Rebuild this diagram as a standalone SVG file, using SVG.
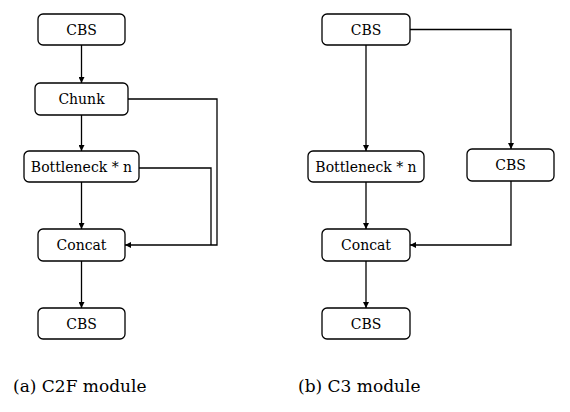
<svg xmlns="http://www.w3.org/2000/svg" width="570" height="412" viewBox="0 0 570 412">
<style>
.box{fill:#fff;stroke:#000;stroke-width:1.3}
.lbl{font-size:14px;fill:#000;text-anchor:middle}
.cap{font-size:17px;fill:#000}
.edge{fill:none;stroke:#000;stroke-width:1.3}
</style>
<defs>
<marker id="arr" viewBox="0 0 10 10" refX="10" refY="5" markerWidth="6" markerHeight="6" markerUnits="userSpaceOnUse" orient="auto">
<path d="M0,0 L10,5 L0,10 z" fill="#000"/>
</marker>
</defs>
<rect width="570" height="412" fill="#fff"/>
<g id="connectors">
<path class="edge" d="M81.5,45 V83" marker-end="url(#arr)"/>
<path class="edge" d="M81.5,115 V151" marker-end="url(#arr)"/>
<path class="edge" d="M81.5,182 V229" marker-end="url(#arr)"/>
<path class="edge" d="M81.5,261 V308" marker-end="url(#arr)"/>
<path class="edge" d="M139,168 H211 V245"/>
<path class="edge" d="M128,99 H217 V245 H125" marker-end="url(#arr)"/>
<path class="edge" d="M366,45 V151" marker-end="url(#arr)"/>
<path class="edge" d="M410,29.5 H511 V149" marker-end="url(#arr)"/>
<path class="edge" d="M366,182 V229" marker-end="url(#arr)"/>
<path class="edge" d="M511,181 V245 H410" marker-end="url(#arr)"/>
<path class="edge" d="M366,261 V308" marker-end="url(#arr)"/>
</g>
<g font-family="DejaVu Serif, serif">
<g id="a_cbs1"><rect class="box" x="38" y="14" width="87" height="31" rx="5"/><text class="lbl" x="81.5" y="34.5">CBS</text></g>
<g id="a_chunk"><rect class="box" x="35" y="83" width="93" height="32" rx="5"/><text class="lbl" x="81.5" y="104">Chunk</text></g>
<g id="a_bottleneck"><rect class="box" x="24" y="151" width="115" height="31" rx="5"/><text class="lbl" x="81.5" y="171.5">Bottleneck * n</text></g>
<g id="a_concat"><rect class="box" x="38" y="229" width="87" height="32" rx="5"/><text class="lbl" x="81.5" y="250">Concat</text></g>
<g id="a_cbs2"><rect class="box" x="38" y="308" width="87" height="31" rx="5"/><text class="lbl" x="81.5" y="328.5">CBS</text></g>
<g id="b_cbs1"><rect class="box" x="322" y="14" width="88" height="31" rx="5"/><text class="lbl" x="366" y="34.5">CBS</text></g>
<g id="b_bottleneck"><rect class="box" x="308" y="151" width="116" height="31" rx="5"/><text class="lbl" x="366" y="171.5">Bottleneck * n</text></g>
<g id="b_cbs_side"><rect class="box" x="467" y="149" width="87" height="32" rx="5"/><text class="lbl" x="510.5" y="170">CBS</text></g>
<g id="b_concat"><rect class="box" x="322" y="229" width="88" height="32" rx="5"/><text class="lbl" x="366" y="250">Concat</text></g>
<g id="b_cbs2"><rect class="box" x="322" y="308" width="88" height="31" rx="5"/><text class="lbl" x="366" y="328.5">CBS</text></g>
<text class="cap" x="13" y="392">(a) C2F module</text>
<text class="cap" x="298" y="392">(b) C3 module</text>
</g>
</svg>
